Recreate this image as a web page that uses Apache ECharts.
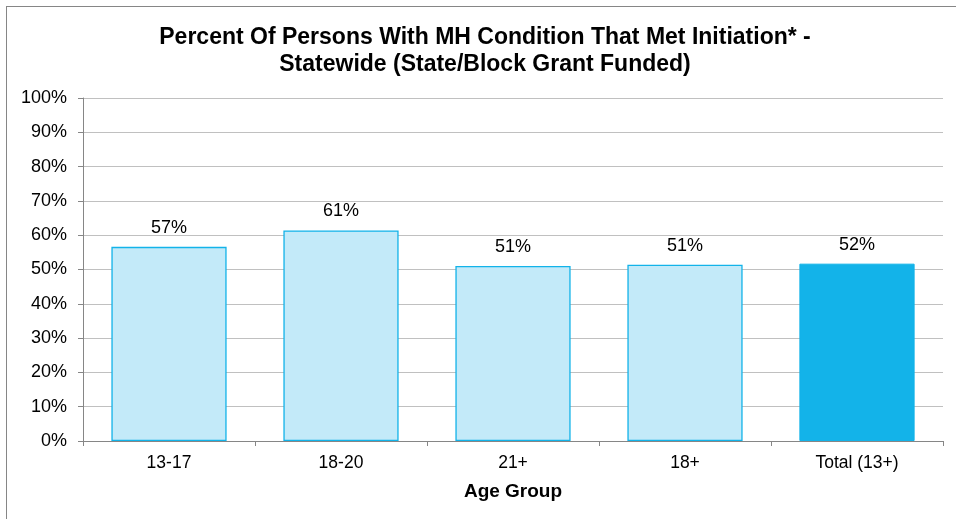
<!DOCTYPE html>
<html><head><meta charset="utf-8">
<script src="https://cdn.jsdelivr.net/npm/echarts@6/dist/echarts.min.js"></script>
<style>
html,body{margin:0;padding:0;background:#fff;overflow:hidden}
#frame{position:absolute;left:6px;top:6px;width:1000px;height:600px;border-left:1px solid #868686;border-top:1px solid #868686;box-sizing:border-box}
#c{position:absolute;left:0;top:0;width:956px;height:519px}
</style></head><body>
<div id="frame"></div>
<div id="c"></div>
<script>
const titleLines = ['Percent Of Persons With MH Condition That Met Initiation* -', 'Statewide (State/Block Grant Funded)'];
const categories = ['13-17', '18-20', '21+', '18+', 'Total (13+)'];
const values = [56.6, 61.4, 51.0, 51.4, 51.7];
const labels = ['57%', '61%', '51%', '51%', '52%'];
const yTicks = [0, 10, 20, 30, 40, 50, 60, 70, 80, 90, 100];
const xName = 'Age Group';

const font = 'Liberation Sans, Arial, sans-serif';
const chart = echarts.init(document.getElementById('c'), null, {renderer: 'canvas'});
chart.setOption({
  animation: false,
  title: {
    text: titleLines.join('\n'),
    left: 480, top: 19, textAlign: 'center',
    textStyle: {fontFamily: font, fontWeight: 'bold', fontSize: 23, color: '#000', lineHeight: 27}
  },
  grid: {left: 83, right: 13, top: 98, bottom: 78, containLabel: false},
  xAxis: {
    type: 'category', data: categories,
    name: xName, nameLocation: 'middle', nameGap: 41,
    nameTextStyle: {fontFamily: font, fontWeight: 'bold', fontSize: 19, color: '#000'},
    axisLine: {lineStyle: {color: '#868686', width: 1}},
    axisTick: {show: true, alignWithLabel: false, length: 5, lineStyle: {color: '#868686'}},
    axisLabel: {fontFamily: font, fontSize: 17.5, color: '#000', margin: 13}
  },
  yAxis: {
    type: 'value', min: 0, max: 100, interval: 10,
    axisLine: {show: true, lineStyle: {color: '#868686', width: 1}},
    axisTick: {show: true, length: 5, inside: false, lineStyle: {color: '#868686'}},
    axisLabel: {fontFamily: font, fontSize: 18, color: '#000', margin: 16,
      formatter: v => yTicks.includes(v) ? v + '%' : ''},
    splitLine: {show: true, lineStyle: {color: '#c0c0c0', width: 1}}
  },
  series: [{
    type: 'bar', barWidth: '67%',
    data: values.map((v, i) => ({
      value: v,
      itemStyle: i === values.length - 1
        ? {color: '#13b3e9', borderColor: '#13b3e9', borderWidth: 1}
        : {color: '#c3eaf9', borderColor: '#13b3e9', borderWidth: 1.3}
    })),
    label: {show: true, position: 'top', distance: 10, fontFamily: font, fontSize: 18, color: '#000',
      formatter: p => labels[p.dataIndex]}
  }]
});
</script>
</body></html>
